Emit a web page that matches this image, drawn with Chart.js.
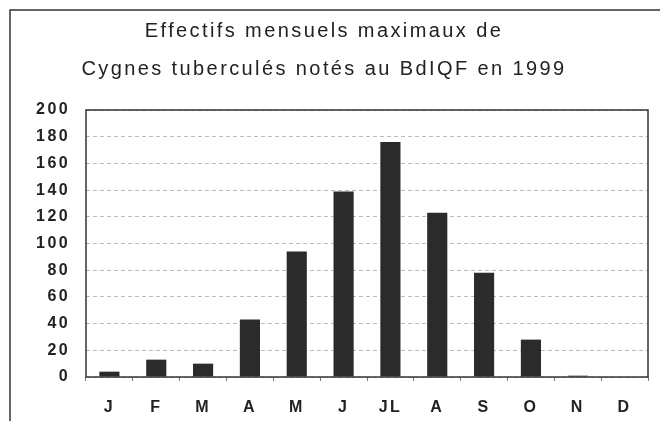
<!DOCTYPE html>
<html>
<head>
<meta charset="utf-8">
<script src="https://cdn.jsdelivr.net/npm/chart.js@4"></script>
<style>
  body { margin: 0; background: #fff; }
  #box { width: 660px; height: 421px; }
</style>
</head>
<body>
<div id="box"><canvas id="cygnes"></canvas></div>
<script>
// donnees
const mois = ['J', 'F', 'M', 'A', 'M', 'J', 'JL', 'A', 'S', 'O', 'N', 'D'];
const effectifs = [4, 13, 10, 43, 94, 139, 176, 123, 78, 28, 1, 0];
const titre = ['Effectifs mensuels maximaux de', 'Cygnes tuberculés notés au BdIQF en 1999'];
const yMax = 200;
const yPas = 20;

// espacement des lettres (le scan est un peu etire)
const espacement = {
  id: 'espacement',
  beforeUpdate: (chart) => { chart.ctx.letterSpacing = '2.4px'; },
  beforeDraw: (chart) => { chart.ctx.letterSpacing = '2.4px'; }
};

// cadre exterieur + cadre de la zone du graphique
const cadre = {
  id: 'cadre',
  afterDraw: (chart) => {
    const { ctx, chartArea: a } = chart;
    ctx.save();
    ctx.strokeStyle = '#333';
    ctx.lineWidth = 1.5;
    ctx.beginPath();
    ctx.moveTo(10, 421);
    ctx.lineTo(10, 10);
    ctx.lineTo(660, 10);
    ctx.stroke();
    ctx.strokeRect(a.left, a.top, a.right - a.left, a.bottom - a.top);
    ctx.restore();
  }
};

let ctx = document.getElementById('cygnes').getContext('2d');
let graph = new Chart(ctx, {
  type: 'bar',
  data: {
    labels: mois,
    datasets: [{
      data: effectifs,
      backgroundColor: '#2b2b2b',
      borderWidth: 0,
      barPercentage: 0.43,
      categoryPercentage: 1
    }]
  },
  options: {
    responsive: true,
    maintainAspectRatio: false,
    animation: false,
    layout: { padding: { left: 0, right: 12, top: 0, bottom: 0 } },
    plugins: {
      legend: { display: false },
      tooltip: { enabled: false },
      title: {
        display: true,
        text: titre,
        color: '#222',
        font: { family: 'Liberation Sans', size: 20, weight: 'normal', lineHeight: 1.9 },
        padding: { top: 12, bottom: 22 }
      }
    },
    scales: {
      x: {
        grid: { drawOnChartArea: false, drawTicks: true, tickLength: 4, color: '#777', offset: true },
        border: { display: false },
        ticks: { color: '#222', padding: 17, font: { family: 'Liberation Sans', size: 16, weight: 'bold' } },
        afterFit: (s) => { s.height = 44; }
      },
      y: {
        min: 0,
        max: yMax,
        grid: { drawTicks: false, color: '#bbb', lineWidth: 1 },
        border: { display: false, dash: [4, 3] },
        ticks: { stepSize: yPas, color: '#222', padding: 16, font: { family: 'Liberation Sans', size: 16, weight: 'bold' } },
        afterFit: (s) => { s.width = 86; }
      }
    }
  },
  plugins: [espacement, cadre]
});
</script>
</body>
</html>
